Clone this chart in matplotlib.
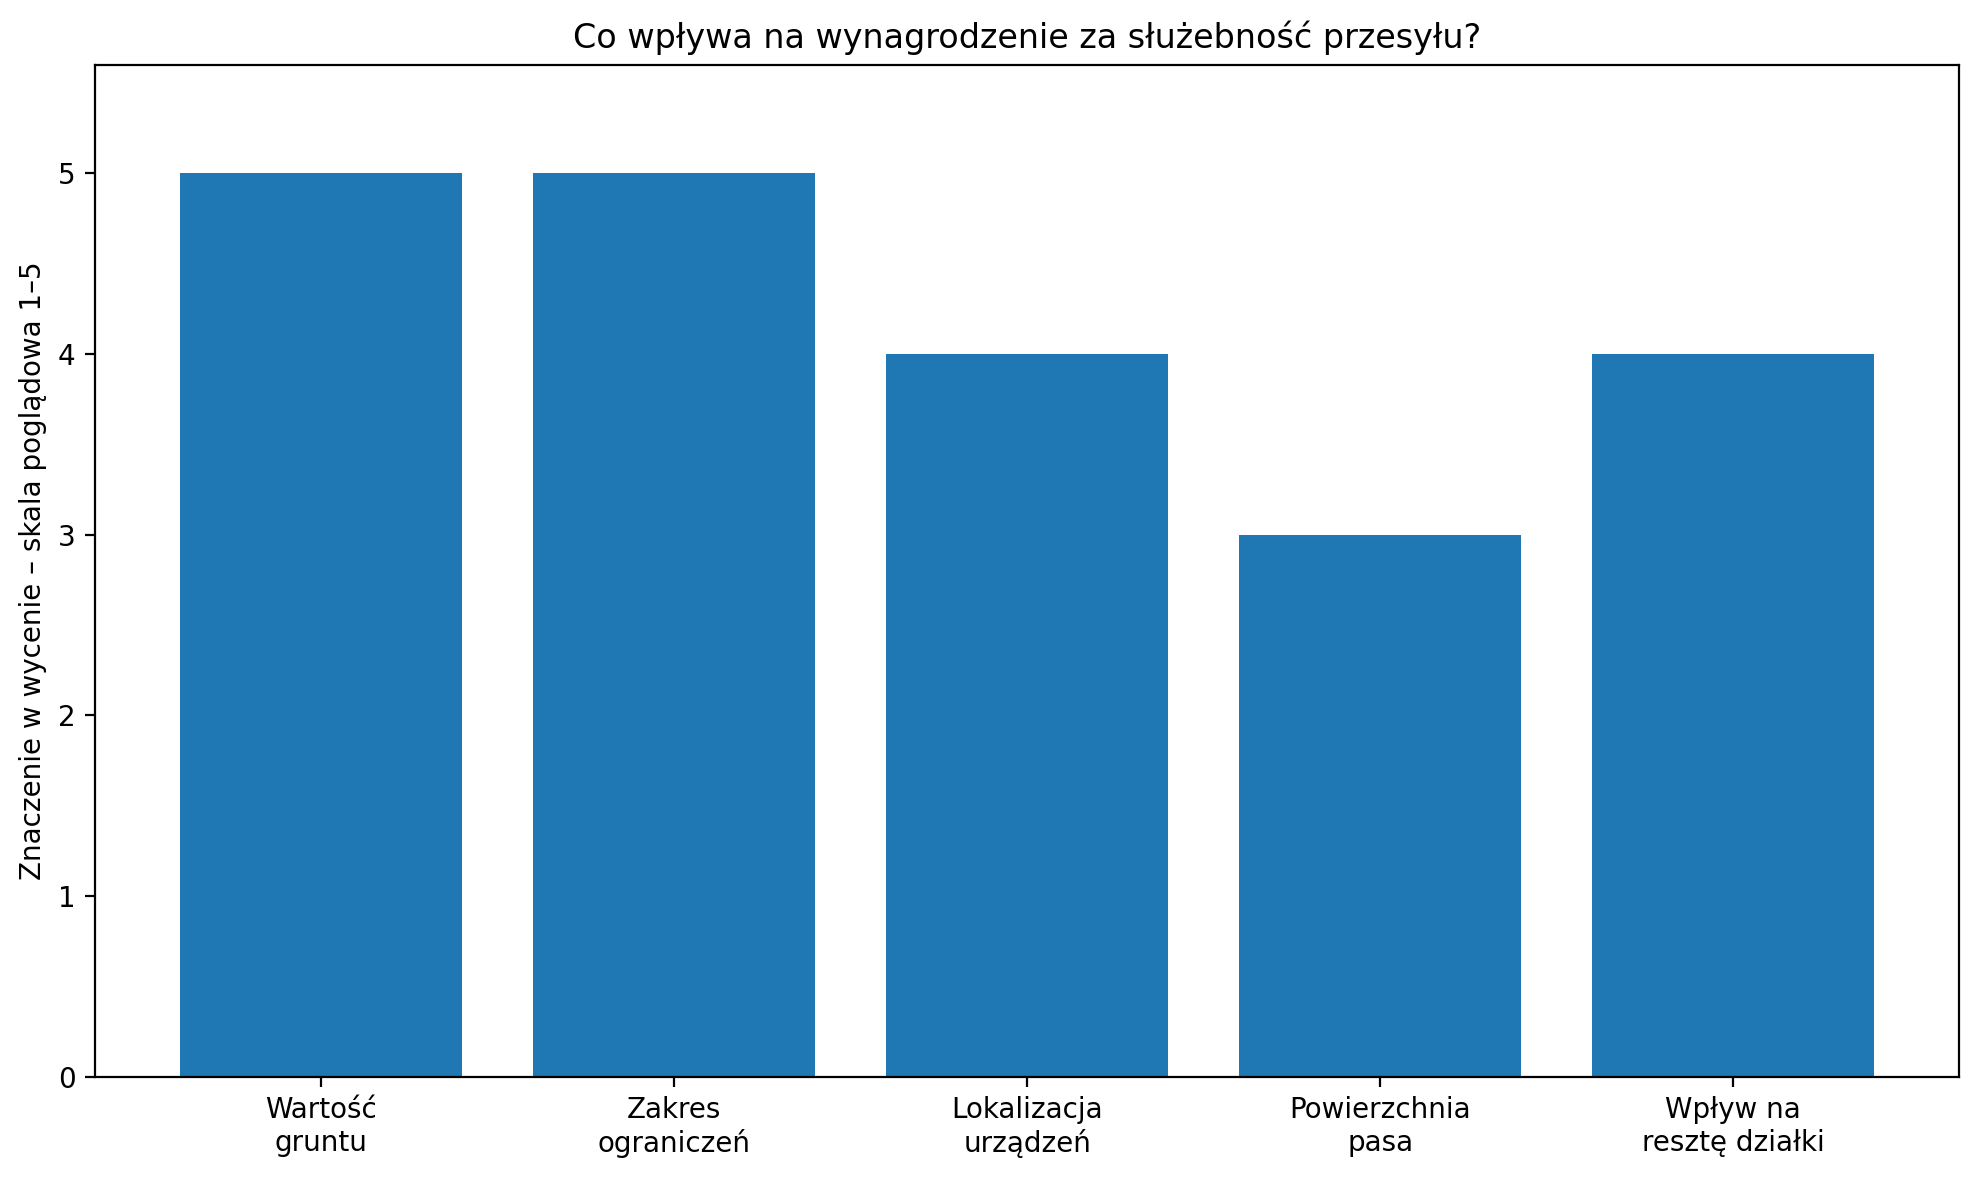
import matplotlib
matplotlib.use("Agg")
import matplotlib.pyplot as plt

categories = ["Wartość\ngruntu", "Zakres\nograniczeń", "Lokalizacja\nurządzeń",
              "Powierzchnia\npasa", "Wpływ na\nresztę działki"]
scores = [5, 5, 4, 3, 4]

fig, ax = plt.subplots(figsize=(1979 / 200, 1178 / 200), dpi=200)
ax.bar(categories, scores, color="#1f77b4")
ax.set_ylim(0, 5.6)
ax.set_title("Co wpływa na wynagrodzenie za służebność przesyłu?")
ax.set_ylabel("Znaczenie w wycenie – skala poglądowa 1–5")

fig.subplots_adjust(left=0.048, right=0.990, top=0.945, bottom=0.086)
plt.savefig("out.png", dpi=200)
